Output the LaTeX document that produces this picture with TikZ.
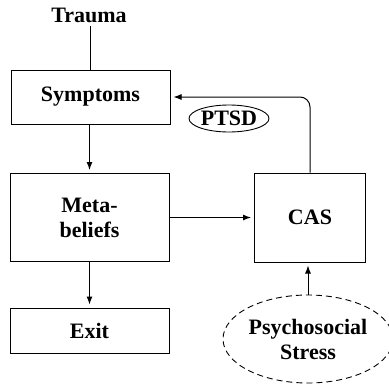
\documentclass[tikz,border=0pt]{standalone}
\usepackage{fontspec}
\setmainfont{Liberation Serif}
\usetikzlibrary{shapes.geometric, arrows.meta}
\tikzset{
  txt/.style={font=\fontsize{22}{25}\selectfont\bfseries, align=center},
  box/.style={txt, draw, rectangle, line width=1pt, inner sep=0pt},
  arrowTo/.style={line width=1pt, -{Latex[length=8pt,width=6pt]}, shorten >=3pt},
}

\begin{document}
\begin{tikzpicture}[x=1pt, y=-1pt]
    % frame
    \useasboundingbox (0,0) rectangle (389,386);
    % left column
    \node[txt] (trauma) at (89,15) {Trauma};
    \node[box, minimum width=159pt, minimum height=54pt] (symptoms) at (90.5,97) {Symptoms};
    \node[box, minimum width=159pt, minimum height=88pt] (meta) at (89.5,217.5) {Meta-\\beliefs};
    \node[box, minimum width=159pt, minimum height=45pt] (exit) at (89.5,330.5) {Exit};
    % right column
    \node[box, minimum width=111pt, minimum height=89pt] (cas) at (310,217.5) {CAS};
    \node[txt, draw, ellipse, line width=0.9pt, inner sep=0pt, minimum width=80pt, minimum height=27pt] (ptsd) at (229,118.5) {PTSD};
    \node[txt, draw, ellipse, line width=0.9pt, dash pattern=on 6pt off 4pt, inner sep=0pt, minimum width=170pt, minimum height=88pt] (stress) at (308,339) {Psychosocial\\Stress};
    % connectors
    \draw[line width=1pt] (symptoms.north |- trauma.south) -- (symptoms.north);
    \draw[arrowTo] (symptoms.south -| meta.north) -- (meta.north);
    \draw[arrowTo] (meta.south) -- (exit.north);
    \draw[arrowTo] (meta.east) -- (cas.west);
    \draw[arrowTo, rounded corners=10pt] (cas.north) |- (symptoms.east);
    \draw[arrowTo] (stress.north) -- (stress.north |- cas.south);
\end{tikzpicture}
\end{document}
